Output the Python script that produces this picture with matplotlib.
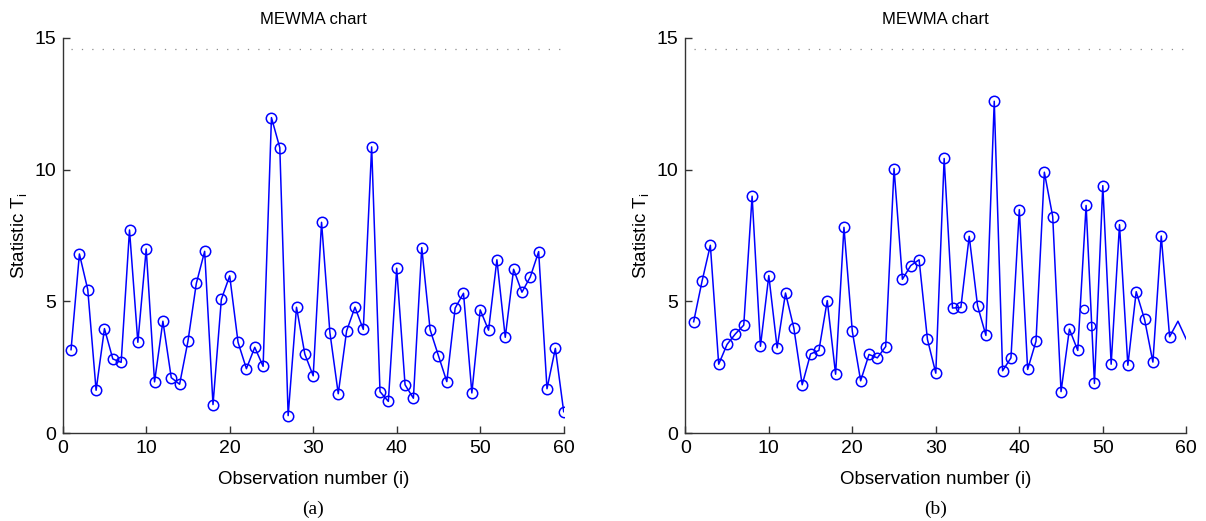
"""Two MEWMA control charts side by side, panels (a) and (b)."""
import numpy as np
from matplotlib import pyplot as plt

plt.rcParams['font.family'] = ['Liberation Sans', 'DejaVu Sans']

obs = np.arange(1, 61)
ucl = 14.56

# Panel (a) statistic values
stat_a = [3.17, 6.80, 5.45, 1.63, 3.97, 2.82, 2.69, 7.71, 3.45, 6.99,
          1.95, 4.25, 2.11, 1.86, 3.49, 5.68, 6.90, 1.09, 5.08, 5.97,
          3.45, 2.45, 3.26, 2.54, 11.97, 10.83, 0.67, 4.78, 3.00, 2.18,
          8.00, 3.82, 1.50, 3.88, 4.78, 3.94, 10.86, 1.58, 1.21, 6.26,
          1.84, 1.33, 7.04, 3.93, 2.94, 1.96, 4.75, 5.31, 1.53, 4.68,
          3.91, 6.58, 3.64, 6.22, 5.35, 5.93, 6.89, 1.69, 3.22, 0.82]

# Panel (b) statistic values (markers only on the first 58)
stat_b = [4.23, 5.76, 7.13, 2.62, 3.37, 3.77, 4.10, 8.99, 3.30, 5.98,
          3.24, 5.32, 3.99, 1.84, 3.01, 3.14, 5.03, 2.24, 7.81, 3.87,
          1.99, 2.99, 2.86, 3.29, 10.04, 5.84, 6.36, 6.58, 3.56, 2.28,
          10.42, 4.75, 4.77, 7.47, 4.84, 3.71, 12.59, 2.37, 2.86, 8.48,
          2.42, 3.49, 9.90, 8.22, 1.58, 3.95, 3.14, 8.64, 1.89, 9.39,
          2.62, 7.91, 2.58, 5.37, 4.32, 2.70, 7.48, 3.66, 4.25, 3.56]
n_marked_b = 58

# stray small circles in panel (b)
extra_x = [47.7, 48.6]
extra_y = [4.70, 4.05]

W, H = 1206, 521
fig = plt.figure(figsize=(W / 100, H / 100), dpi=100)

panels = [
    (62.7, stat_a, len(stat_a), '(a)'),
    (685.3, stat_b, n_marked_b, '(b)'),
]

for x0, stat, n_marked, tag in panels:
    ax = fig.add_axes([x0 / W, (H - 433.3) / H, 501 / W, 395.6 / H])
    # control limit, one dot per observation
    ax.plot(obs, [ucl] * len(obs), color='#8c8c8c', linestyle=(0, (1, 7.3)),
            linewidth=0.9)
    ax.plot(obs, stat, color='#0000ff', linewidth=1.1)
    ax.plot(obs[:n_marked], stat[:n_marked], linestyle='none', marker='o',
            markersize=7.5, markerfacecolor='none', markeredgecolor='#0000ff',
            markeredgewidth=1.1)
    if tag == '(b)':
        ax.plot(extra_x, extra_y, linestyle='none', marker='o', markersize=6,
                markerfacecolor='none', markeredgecolor='#0000ff',
                markeredgewidth=1.0)

    ax.set_xlim(0, 60)
    ax.set_ylim(0, 15)
    ax.set_xticks([0, 10, 20, 30, 40, 50, 60])
    ax.set_yticks([0, 5, 10, 15])
    for side in ('top', 'right'):
        ax.spines[side].set_visible(False)
    for side in ('left', 'bottom'):
        ax.spines[side].set_color('#333333')
        ax.spines[side].set_linewidth(1.0)
    ax.tick_params(direction='in', length=5, width=1.0, colors='#333333',
                   labelcolor='black', labelsize=14, pad=5)

    ax.set_title('MEWMA chart', fontsize=12, pad=10)
    ax.set_xlabel('Observation number (i)', fontsize=13.5, labelpad=10)
    ax.set_ylabel(r'Statistic T$_\mathregular{i}$', fontsize=13.5, labelpad=3)
    ax.text(0.5, -0.17, tag, transform=ax.transAxes, ha='center', va='top',
            fontsize=14, family=['Liberation Serif', 'DejaVu Serif'])

fig.savefig('out.png', dpi=100)
